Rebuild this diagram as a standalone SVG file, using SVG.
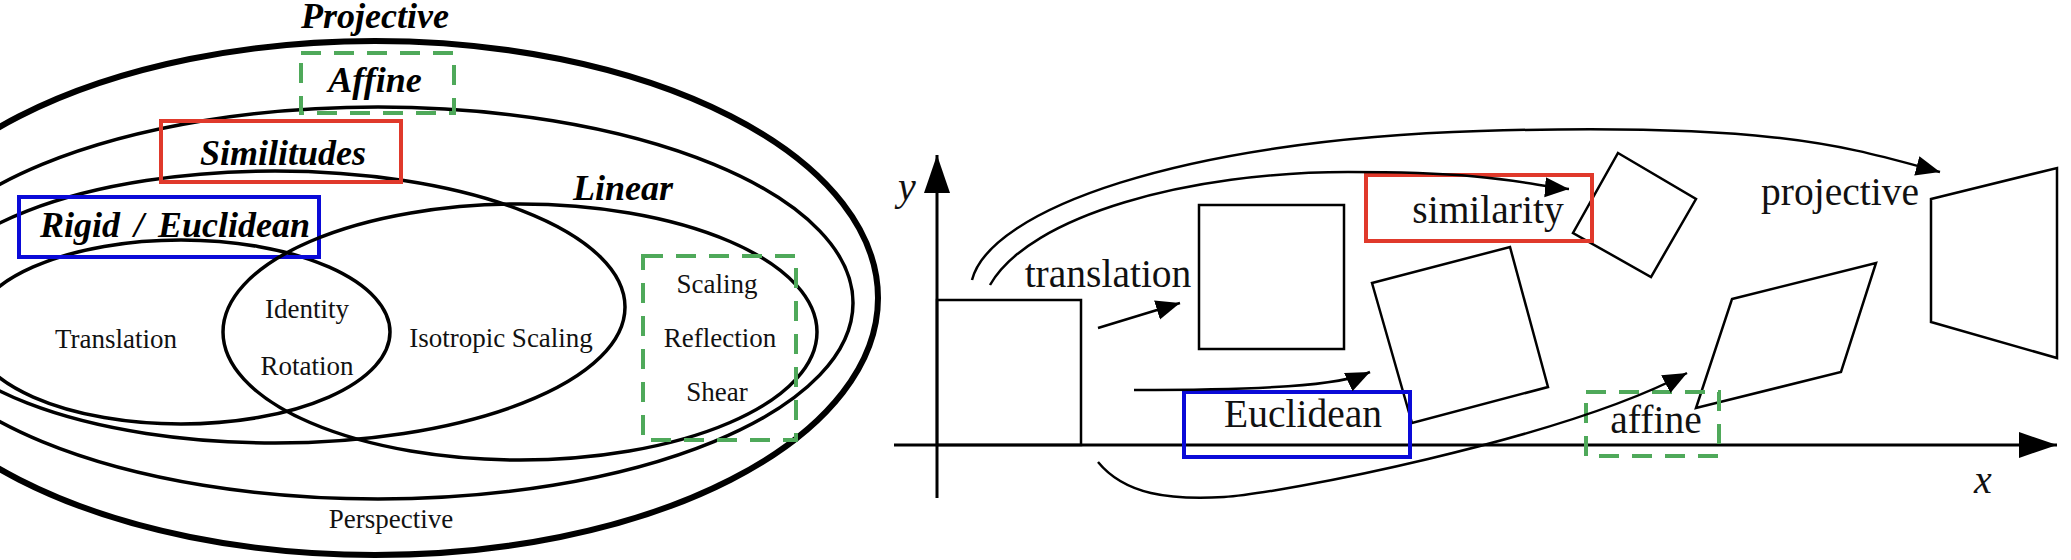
<svg xmlns="http://www.w3.org/2000/svg" width="2071" height="560" viewBox="0 0 2071 560">
<style>
  .ell { fill: none; stroke: #000; stroke-width: 3.5; }
  .thick { fill: none; stroke: #000; stroke-width: 6; }
  .bi { font-family: "Liberation Serif", "Times New Roman", serif; font-weight: bold; font-style: italic; font-size: 36px; fill: #000; text-anchor: middle; }
  .reg { font-family: "Liberation Serif", "Times New Roman", serif; font-size: 27px; fill: #111; text-anchor: middle; }
  .rt { font-family: "Liberation Serif", "Times New Roman", serif; font-size: 39.5px; fill: #111; text-anchor: middle; }
  .it { font-family: "Liberation Serif", "Times New Roman", serif; font-style: italic; font-size: 40px; fill: #111; text-anchor: middle; }
  .red { fill: none; stroke: #e0392b; stroke-width: 4; }
  .blue { fill: none; stroke: #0a0ad8; stroke-width: 4; }
  .green { fill: none; stroke: #4fa95a; stroke-width: 4; stroke-dasharray: 20 13; }
  .shape { fill: none; stroke: #000; stroke-width: 2.5; stroke-linejoin: miter; }
  .conn { fill: none; stroke: #000; stroke-width: 2.5; }
  .axis { fill: none; stroke: #000; stroke-width: 3; }
</style>
<defs>
  <marker id="ah" markerUnits="userSpaceOnUse" markerWidth="26" markerHeight="22" refX="24" refY="10" orient="auto">
    <path d="M0,0 L24,10 L0,20 z" fill="#000"/>
  </marker>
  <marker id="axh" markerUnits="userSpaceOnUse" markerWidth="40" markerHeight="28" refX="38" refY="13" orient="auto">
    <path d="M0,0 L38,13 L0,26 z" fill="#000"/>
  </marker>
</defs>
<rect width="2071" height="560" fill="#fff"/>

<!-- Left: Venn diagram of transformation groups -->
<g id="projective">
  <ellipse class="thick" cx="375" cy="298" rx="503" ry="257"/>
  <text class="bi" x="375" y="28">Projective</text>
  <text class="reg" x="391" y="528">Perspective</text>
</g>
<g id="affine">
  <ellipse class="ell" cx="378" cy="303" rx="475" ry="196"/>
  <rect class="green" x="301" y="53" width="153" height="60"/>
  <text class="bi" x="375" y="92">Affine</text>
</g>
<g id="similitudes">
  <ellipse class="ell" cx="275" cy="307" rx="350" ry="136"/>
  <rect class="red" x="161" y="121" width="240" height="61"/>
  <text class="bi" x="283" y="165">Similitudes</text>
</g>
<g id="rigid">
  <ellipse class="ell" cx="181" cy="332" rx="209" ry="92"/>
  <rect class="blue" x="19" y="197" width="300" height="60"/>
  <text class="bi" x="175" y="237" word-spacing="5">Rigid / Euclidean</text>
  <text class="reg" x="116" y="348">Translation</text>
</g>
<g id="linear">
  <ellipse class="ell" cx="520" cy="332" rx="297" ry="128"/>
  <text class="bi" x="623" y="200">Linear</text>
  <text class="reg" x="501" y="347">Isotropic Scaling</text>
</g>
<g id="identity-rotation">
  <text class="reg" x="307" y="318">Identity</text>
  <text class="reg" x="307" y="375">Rotation</text>
</g>
<g id="scaling-reflection-shear">
  <rect class="green" x="643" y="256" width="153" height="184"/>
  <text class="reg" x="717" y="293">Scaling</text>
  <text class="reg" x="720" y="347">Reflection</text>
  <text class="reg" x="717" y="401">Shear</text>
</g>

<!-- Right: transformations of a square -->
<g id="axes">
  <line class="axis" x1="937" y1="498" x2="937" y2="155" marker-end="url(#axh)"/>
  <line class="axis" x1="894" y1="445" x2="2057" y2="445" marker-end="url(#axh)"/>
  <text class="it" x="907" y="200">y</text>
  <text class="it" x="1983" y="493">x</text>
</g>
<g id="original-square">
  <rect class="shape" x="937" y="300" width="144" height="145"/>
</g>
<g id="translated-square">
  <rect class="shape" x="1199" y="205" width="145" height="144"/>
  <text class="rt" x="1108" y="287">translation</text>
</g>
<g id="euclidean-square">
  <polygon class="shape" points="1372,283 1510,247 1548,387 1412,423"/>
  <rect class="blue" x="1184" y="392" width="226" height="65"/>
  <text class="rt" x="1303" y="427">Euclidean</text>
</g>
<g id="similarity-square">
  <polygon class="shape" points="1618,153 1696,199 1651,277 1573,233"/>
  <rect class="red" x="1366" y="175" width="226" height="66"/>
  <text class="rt" x="1488" y="223">similarity</text>
</g>
<g id="affine-parallelogram">
  <polygon class="shape" points="1732,299 1876,263 1841,372 1696,408"/>
  <rect class="green" x="1586" y="392" width="133" height="64"/>
  <text class="rt" x="1656" y="433">affine</text>
</g>
<g id="projective-trapezoid">
  <polygon class="shape" points="1931,199 2057,168 2057,358 1931,322"/>
  <text class="rt" x="1840" y="205">projective</text>
</g>
<g id="connectors">
  <line class="conn" x1="1098" y1="328" x2="1180" y2="303" marker-end="url(#ah)"/>
  <path class="conn" d="M1134,390 C1260,390 1340,386 1370,372" marker-end="url(#ah)"/>
  <path class="conn" d="M990,285 C1030,215 1190,172 1348,172 S1530,186 1569,189" marker-end="url(#ah)"/>
  <path class="conn" d="M972,280 C990,210 1180,140 1480,131 S1850,148 1940,172" marker-end="url(#ah)"/>
  <path class="conn" d="M1098,462 C1125,495 1170,500 1224,497 C1278,494 1560,440 1687,373" marker-end="url(#ah)"/>
</g>
</svg>
